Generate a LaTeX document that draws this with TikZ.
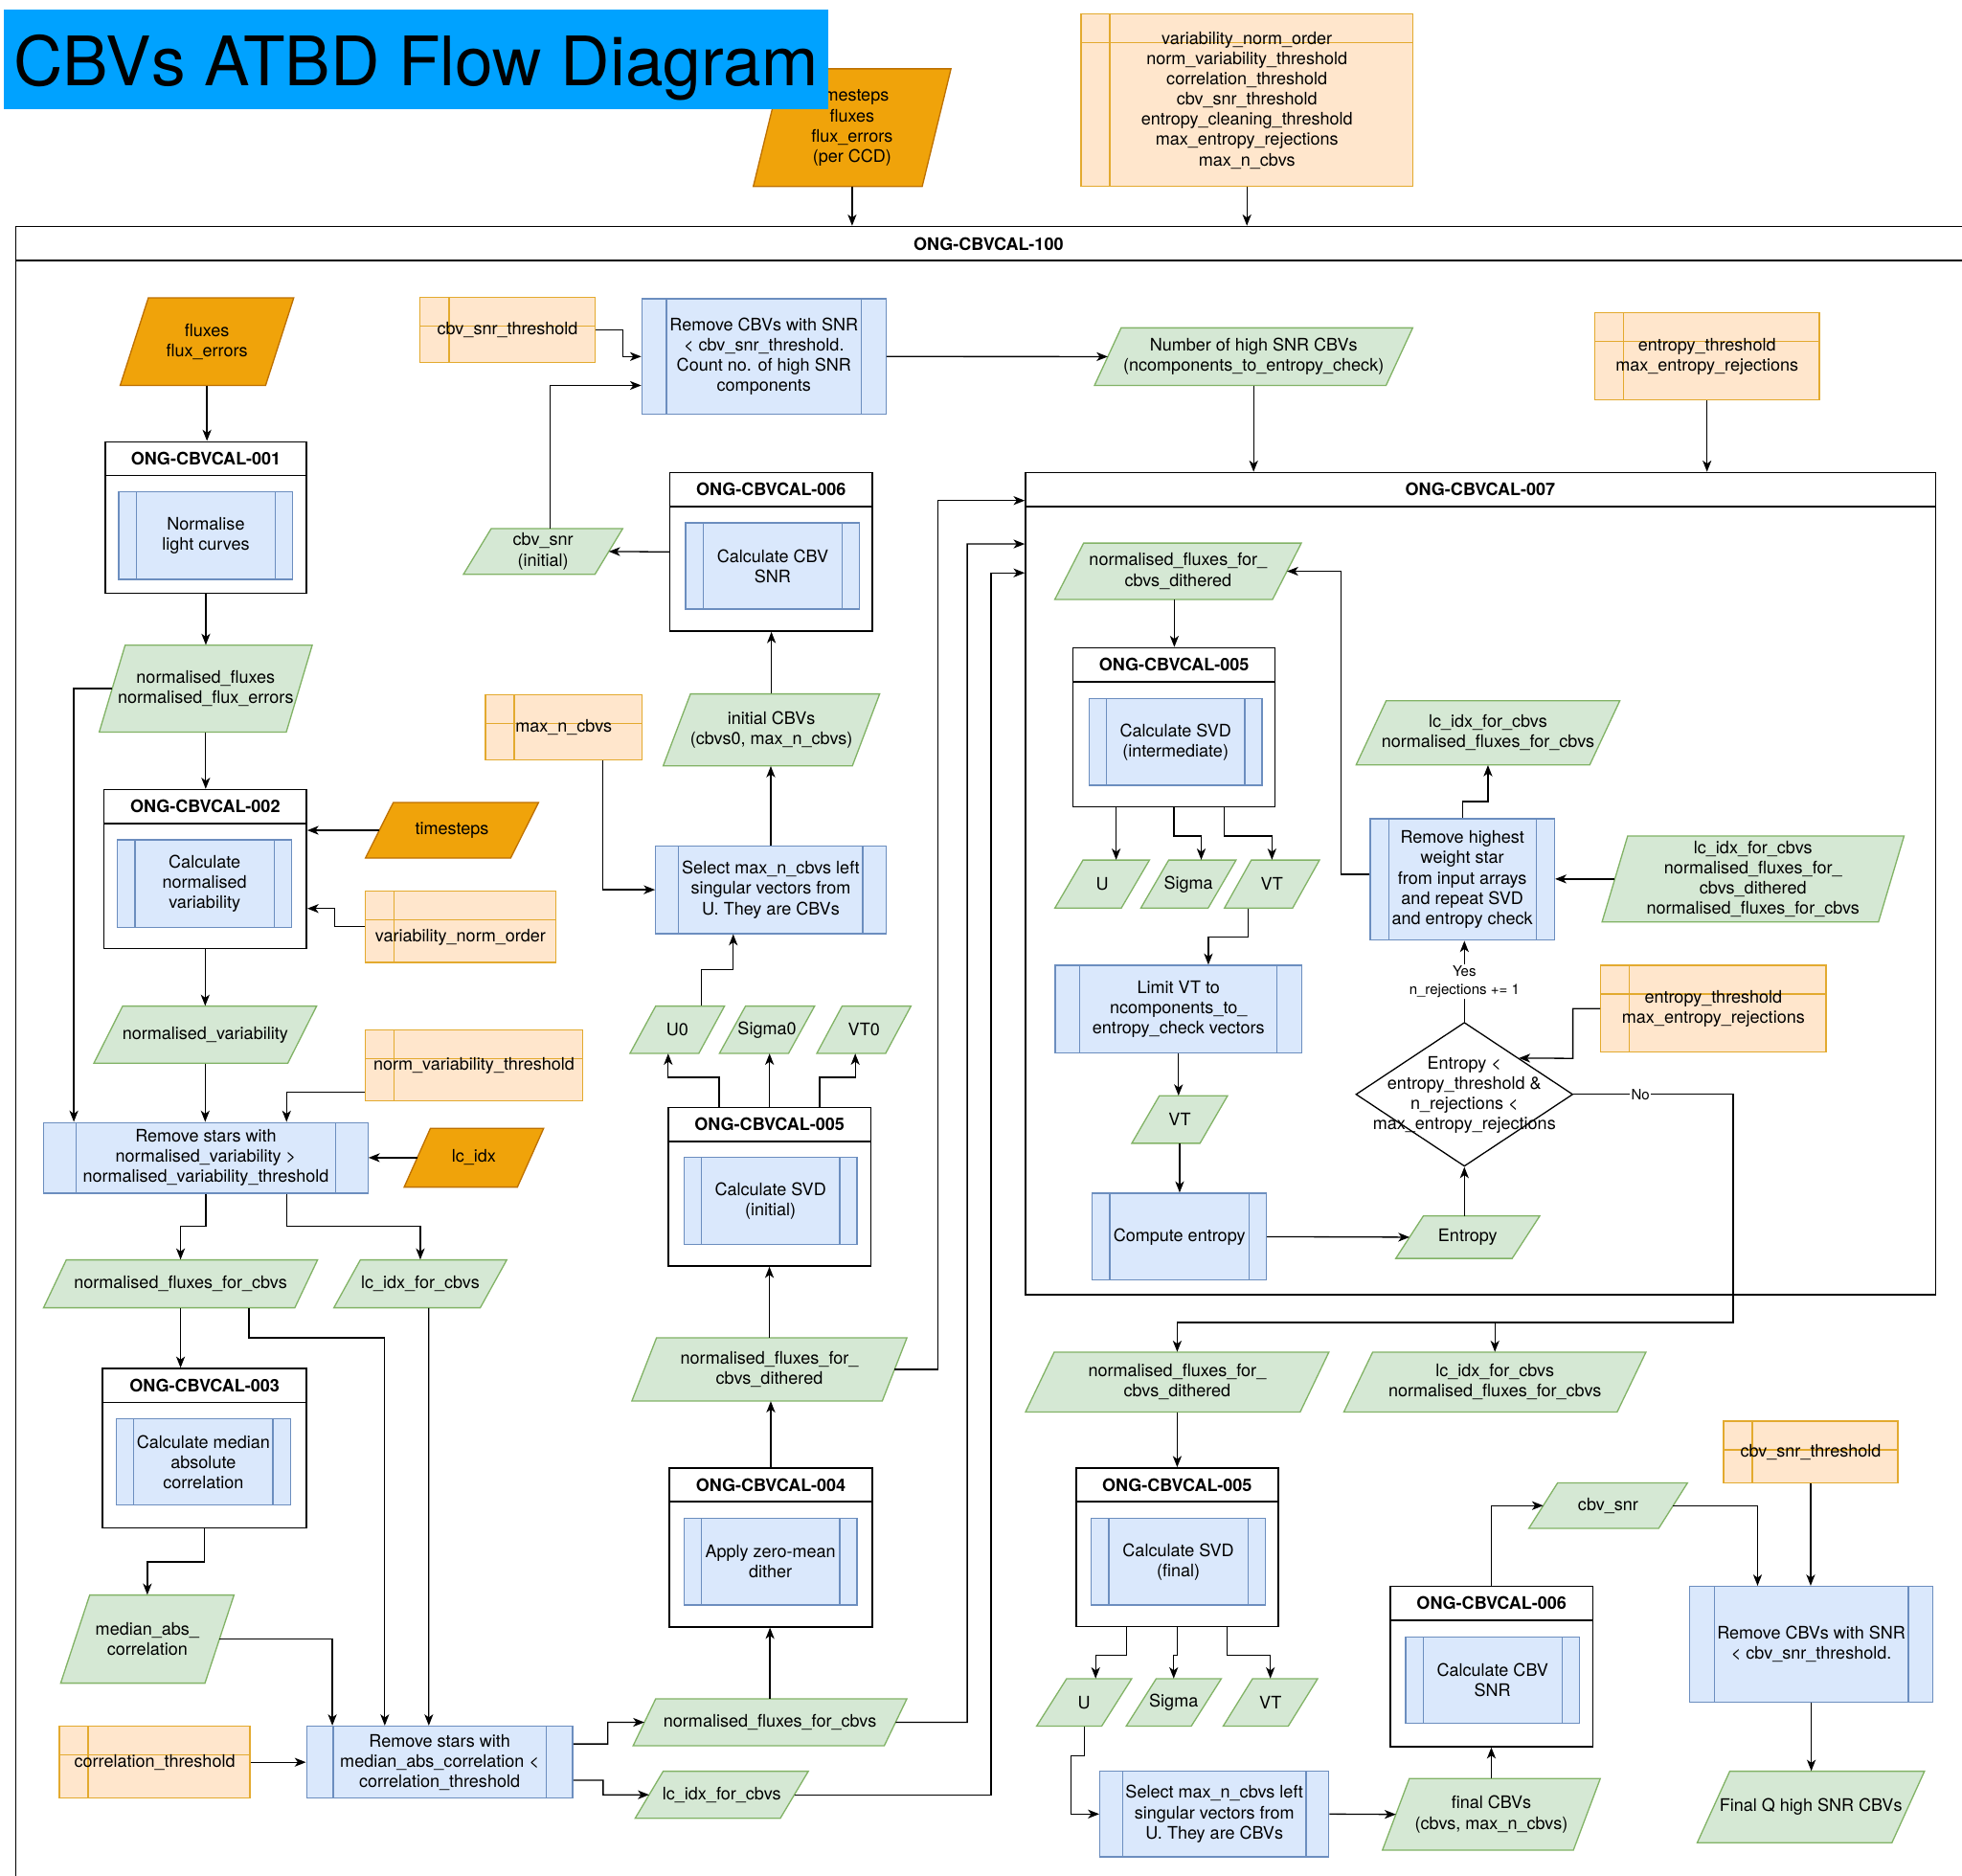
\documentclass[tikz,border=0pt]{standalone}
\usepackage{fontspec}
\setmainfont{TeX Gyre Heros}
\usetikzlibrary{arrows.meta,calc,shapes.geometric}
\definecolor{pBlue}{HTML}{DAE8FC}
\definecolor{pBlueLine}{HTML}{6C8EBF}
\definecolor{pGreen}{HTML}{D5E8D4}
\definecolor{pGreenLine}{HTML}{82B366}
\definecolor{pAmber}{HTML}{F0A30A}
\definecolor{pAmberLine}{HTML}{BD7000}
\definecolor{pPeach}{HTML}{FFE6CC}
\definecolor{pPeachLine}{HTML}{E3AA2F}
\definecolor{pTitle}{HTML}{00A2FF}
\tikzset{
    txt/.style={inner sep=0pt, align=center, font=\fontsize{13.8}{16.2}\selectfont},
    hdr/.style={inner sep=0pt, font=\bfseries\fontsize{13.8}{16.2}\selectfont},
    lane/.style={draw=black, fill=white, line width=1.2pt, inner sep=0pt,
        path picture={\draw[line width=1.2pt] ([yshift=-27pt]path picture bounding box.north west) -- ([yshift=-27pt]path picture bounding box.north east);}},
    proc/.style={txt, draw=pBlueLine, fill=pBlue, line width=1pt,
        path picture={
            \draw[pBlueLine, line width=1pt] ($(path picture bounding box.north west)!0.1!(path picture bounding box.north east)$) -- ($(path picture bounding box.south west)!0.1!(path picture bounding box.south east)$);
            \draw[pBlueLine, line width=1pt] ($(path picture bounding box.north west)!0.9!(path picture bounding box.north east)$) -- ($(path picture bounding box.south west)!0.9!(path picture bounding box.south east)$);}},
    store/.style={txt, draw=pPeachLine, fill=pPeach, line width=1pt,
        path picture={
            \draw[pPeachLine, line width=1pt] ([xshift=23pt]path picture bounding box.north west) -- ([xshift=23pt]path picture bounding box.south west);
            \draw[pPeachLine, line width=1pt] ([yshift=-23pt]path picture bounding box.north west) -- ([yshift=-23pt]path picture bounding box.north east);}},
    gio/.style={draw=pGreenLine, fill=pGreen, line width=1pt},
    oio/.style={draw=pAmberLine, fill=pAmber, line width=1pt},
    arr/.style={-{Stealth[length=9pt,width=7pt,inset=2.5pt]}, line width=1pt},
    lbl/.style={fill=white, inner sep=1pt, align=center, font=\fontsize{11.5}{14.5}\selectfont}
}
% #1 style, #2 name, #3 cx, #4 cy, #5 width, #6 height, #7 slant, #8 text
\newcommand{\iobox}[8]{%
    \draw[#1] (#3-#5/2+#7,#4-#6/2) -- (#3+#5/2,#4-#6/2) -- (#3+#5/2-#7,#4+#6/2) -- (#3-#5/2,#4+#6/2) -- cycle;
    \node[txt, minimum width=#5, minimum height=#6] (#2) at (#3,#4) {#8};
    \coordinate (#2-l) at (#3-#5/2+#7/2,#4);
    \coordinate (#2-r) at (#3+#5/2-#7/2,#4);
}

\begin{document}
\begin{tikzpicture}[x=1pt,y=-1pt]
\useasboundingbox (0,0) rectangle (1568,1499);

% inputs above the main block
\iobox{oio}{ccd}{681}{102}{158}{94}{23}{timesteps\\fluxes\\flux\_errors\\(per CCD)}
\node[store, minimum width=265, minimum height=138] (stparams) at (996.5,80) {variability\_norm\_order\\norm\_variability\_threshold\\correlation\_threshold\\cbv\_snr\_threshold\\entropy\_cleaning\_threshold\\max\_entropy\_rejections\\max\_n\_cbvs};

% main block
\node[lane, minimum width=1587.5, minimum height=1349] (c100) at (806.25,855.5) {};
\node[hdr] (c100t) at (790,195) {ONG-CBVCAL-100};

% left column
\iobox{oio}{fluxin}{165.4}{273}{138.7}{70}{22.5}{fluxes\\flux\_errors}
\node[lane, minimum width=161, minimum height=121] (c001) at (164.5,413.5) {};
\node[hdr] (c001t) at (164.5,366.5) {ONG-CBVCAL-001};
\node[proc, minimum width=139, minimum height=70] (p001) at (164.5,428) {Normalise\\light curves};
\iobox{gio}{nflux}{164.4}{550.3}{170.2}{69.4}{20.7}{normalised\_fluxes\\normalised\_flux\_errors}
\node[lane, minimum width=162, minimum height=127] (c002) at (164,694.5) {};
\node[hdr] (c002t) at (164,644.5) {ONG-CBVCAL-002};
\node[proc, minimum width=139, minimum height=70] (p002) at (163.5,706) {Calculate\\normalised\\variability};
\iobox{oio}{tsteps}{361.2}{663.5}{138.4}{44.4}{22.3}{timesteps}
\node[store, minimum width=152, minimum height=57, label={[txt, yshift=-8.5pt]center:variability\_norm\_order}] (stvno) at (368,740.5) {};
\iobox{gio}{nvar}{164}{826.8}{178}{45.6}{23}{normalised\_variability}
\node[store, minimum width=173.6, minimum height=56.6] (stvthr) at (378.8,851.3) {norm\_variability\_threshold};
\node[proc, minimum width=259, minimum height=56.5] (rmvar) at (164.5,925.25) {Remove stars with\\normalised\_variability \textgreater\\normalised\_variability\_threshold};
\iobox{oio}{lcidx}{378.75}{925.1}{111.5}{47}{21}{lc\_idx}
\iobox{gio}{nffc1}{144.3}{1025.9}{219}{38.3}{18.2}{normalised\_fluxes\_for\_cbvs}
\iobox{gio}{lcfc1}{335.9}{1025.9}{138.2}{38.3}{21.2}{lc\_idx\_for\_cbvs}
\node[lane, minimum width=163, minimum height=127.4] (c003) at (163.5,1157.3) {};
\node[hdr] (c003t) at (163.5,1107.1) {ONG-CBVCAL-003};
\node[proc, minimum width=139, minimum height=69] (p003) at (162.5,1168.2) {Calculate median\\absolute\\correlation};
\iobox{gio}{mac}{117.75}{1309.8}{138.5}{70.4}{23.2}{median\_abs\_\\correlation}
\node[store, minimum width=152.3, minimum height=57.6] (stcorr) at (123.65,1408.2) {correlation\_threshold};
\node[proc, minimum width=212.7, minimum height=57.6] (rmcorr) at (351.35,1408.2) {Remove stars with\\median\_abs\_correlation \textless\\correlation\_threshold};

% middle column
\node[store, minimum width=139.6, minimum height=52.4] (stsnr) at (405.6,263.6) {cbv\_snr\_threshold};
\node[proc, minimum width=195, minimum height=92.2] (rmsnr) at (610.5,284.9) {Remove CBVs with SNR\\\textless{} cbv\_snr\_threshold.\\Count no. of high SNR\\components};
\iobox{gio}{snri}{434}{440.7}{127.3}{36.6}{22.2}{cbv\_snr\\(initial)}
\node[lane, minimum width=161.6, minimum height=126.7] (c006a) at (616.2,441) {};
\node[hdr] (c006at) at (616.2,391.1) {ONG-CBVCAL-006};
\node[proc, minimum width=139, minimum height=69] (p006a) at (617.5,452.3) {Calculate CBV\\SNR};
\node[store, minimum width=125, minimum height=52] (stmax) at (450.5,581) {max\_n\_cbvs};
\iobox{gio}{icbv}{616.5}{583.25}{173}{57.5}{21.8}{initial CBVs\\(cbvs0, max\_n\_cbvs)}
\node[proc, minimum width=184, minimum height=70] (selA) at (616,711) {Select max\_n\_cbvs left\\singular vectors from\\U. They are CBVs};
\iobox{gio}{u0}{541.25}{822.85}{75.5}{37.7}{20.5}{U0}
\iobox{gio}{sig0}{613}{822.85}{76}{37.7}{20.8}{Sigma0}
\iobox{gio}{vt0}{690.4}{822.85}{75.2}{37.7}{20.2}{VT0}
\node[lane, minimum width=162, minimum height=126.6] (c005a) at (615,948.3) {};
\node[hdr] (c005at) at (615,898.5) {ONG-CBVCAL-005};
\node[proc, minimum width=138.5, minimum height=69.3] (p005a) at (615.75,959.65) {Calculate SVD\\(initial)};
\iobox{gio}{nfd1}{614.9}{1094.25}{219.8}{50.5}{19.7}{normalised\_fluxes\_for\_\\cbvs\_dithered}
\node[lane, minimum width=162, minimum height=127] (c004) at (616,1236.5) {};
\node[hdr] (c004t) at (616,1186.5) {ONG-CBVCAL-004};
\node[proc, minimum width=138.5, minimum height=69] (p004) at (615.75,1248) {Apply zero-mean\\dither};
\iobox{gio}{nffc2}{615.35}{1376.3}{218.7}{37.4}{18}{normalised\_fluxes\_for\_cbvs}
\iobox{gio}{lcfc2}{576.8}{1434.2}{138.4}{37.6}{22.4}{lc\_idx\_for\_cbvs}

% entropy check block
\iobox{gio}{nhigh}{1001.85}{285}{254.3}{46}{21.3}{Number of high SNR CBVs\\(ncomponents\_to\_entropy\_check)}
\node[store, minimum width=179.6, minimum height=69.5] (stent1) at (1364.2,284.75) {entropy\_threshold\\max\_entropy\_rejections};
\node[lane, minimum width=727.4, minimum height=657] (c007) at (1183.3,706.1) {};
\node[hdr] (c007t) at (1183,391.1) {ONG-CBVCAL-007};
\iobox{gio}{nfd2}{941.5}{456.5}{197}{45}{23}{normalised\_fluxes\_for\_\\cbvs\_dithered}
\node[lane, minimum width=161.4, minimum height=127.1] (c005b) at (938.3,581.2) {};
\node[hdr] (c005bt) at (938.3,531.1) {ONG-CBVCAL-005};
\node[proc, minimum width=138.3, minimum height=69.2] (p005b) at (939.45,592.9) {Calculate SVD\\(intermediate)};
\iobox{gio}{uB}{880.8}{706.5}{75.6}{38.4}{22.5}{U}
\iobox{gio}{sigB}{949.75}{706.5}{76.1}{38.4}{22.3}{Sigma}
\iobox{gio}{vtB}{1016.5}{706.5}{76}{38.4}{21.5}{VT}
\node[proc, minimum width=197.1, minimum height=69.8] (limvt) at (941.85,806.3) {Limit VT to\\ncomponents\_to\_\\entropy\_check vectors};
\iobox{gio}{vt2}{942.75}{894.65}{76.5}{37.9}{22}{VT}
\node[proc, minimum width=139, minimum height=69.5] (entc) at (942.5,988.25) {Compute entropy};
\iobox{gio}{entp}{1173}{988.65}{115}{33.9}{22}{Entropy}
\node[draw, fill=white, diamond, line width=1pt, inner sep=0pt, minimum width=173.4, minimum height=115] (dec) at (1170.3,874.5) {};
\node[txt] (dect) at (1170.3,875) {Entropy \textless\\entropy\_threshold \&\\n\_rejections \textless\\max\_entropy\_rejections};
\node[proc, minimum width=147.3, minimum height=97] (rmhigh) at (1168.65,702.8) {Remove highest\\weight star\\from input arrays\\and repeat SVD\\and entropy check};
\iobox{gio}{lcn1}{1189.15}{585.6}{210.7}{51.2}{24}{lc\_idx\_for\_cbvs\\normalised\_fluxes\_for\_cbvs}
\iobox{gio}{inR}{1401}{702.4}{241.4}{68.8}{20.5}{lc\_idx\_for\_cbvs\\normalised\_fluxes\_for\_\\cbvs\_dithered\\normalised\_fluxes\_for\_cbvs}
\node[store, minimum width=180, minimum height=69.3] (stent2) at (1369.3,806.05) {entropy\_threshold\\max\_entropy\_rejections};

% final stage
\iobox{gio}{nfd3}{940.8}{1104.4}{242.4}{47.8}{22.9}{normalised\_fluxes\_for\_\\cbvs\_dithered}
\iobox{gio}{lcn2}{1194.7}{1104.4}{241.4}{47.8}{23}{lc\_idx\_for\_cbvs\\normalised\_fluxes\_for\_cbvs}
\node[lane, minimum width=161.4, minimum height=126.7] (c005c) at (940.7,1236.4) {};
\node[hdr] (c005ct) at (940.7,1186.5) {ONG-CBVCAL-005};
\node[proc, minimum width=139, minimum height=69] (p005c) at (941.7,1248) {Calculate SVD\\(final)};
\iobox{gio}{uC}{866.4}{1360.45}{76}{37.9}{24}{U}
\iobox{gio}{sigC}{938}{1360.45}{76}{37.9}{24}{Sigma}
\iobox{gio}{vtC}{1015.25}{1360.45}{75.5}{37.9}{23.5}{VT}
\node[proc, minimum width=183, minimum height=68.4] (selB) at (970.5,1449.6) {Select max\_n\_cbvs left\\singular vectors from\\U. They are CBVs};
\iobox{gio}{fcbv}{1191.85}{1449.9}{174.1}{57.2}{21.5}{final CBVs\\(cbvs, max\_n\_cbvs)}
\node[lane, minimum width=162, minimum height=128] (c006b) at (1192,1331.7) {};
\node[hdr] (c006bt) at (1192,1281.2) {ONG-CBVCAL-006};
\node[proc, minimum width=138.8, minimum height=69] (p006b) at (1192.8,1342.5) {Calculate CBV\\SNR};
\iobox{gio}{snrB}{1285.2}{1203.15}{126.8}{36.3}{23}{cbv\_snr}
\node[store, minimum width=139.3, minimum height=49.4] (stsnrB) at (1447.05,1160.3) {cbv\_snr\_threshold};
\node[proc, minimum width=194.1, minimum height=92.3] (rmsnrB) at (1447.55,1313.85) {Remove CBVs with SNR\\\textless{} cbv\_snr\_threshold.};
\iobox{gio}{finq}{1447.2}{1443.95}{181.6}{57.1}{26}{Final Q high SNR CBVs}

% connectors
\draw[arr] (ccd.south) -- (ccd.south |- c100.north);
\draw[arr] (stparams.south) -- (stparams.south |- c100.north);
\draw[arr] (fluxin.south) -- (fluxin.south |- c001.north);
\draw[arr] (c001.south) -- (c001.south |- nflux.north);
\draw[arr] (nflux-l) -| ([xshift=-105.5pt]rmvar.north);
\draw[arr] (nflux.south) -- (nflux.south |- c002.north);
\draw[arr] (tsteps-l) -- (tsteps-l -| c002.east);
\draw[arr] (stvno.west) -| ([xshift=22pt,yshift=-31.5pt]c002.east) -- ([yshift=-31.5pt]c002.east);
\draw[arr] (c002.south) -- (c002.south |- nvar.north);
\draw[arr] (nvar.south) -- (nvar.south |- rmvar.north);
\draw[arr] ([yshift=-21.7pt]stvthr.west) -| ([xshift=64.5pt]rmvar.north);
\draw[arr] (lcidx-l) -- (lcidx-l -| rmvar.east);
\draw[arr] (rmvar.south) -- (164.5,980) -| (nffc1.north);
\draw[arr] ([xshift=64.5pt]rmvar.south) -- (229,980) -| (lcfc1.north);
\draw[arr] (nffc1.south) -- (nffc1.south |- c003.north);
\draw[arr] ([xshift=54.7pt]nffc1.south) -- (199,1069) -| ([xshift=-43.85pt]rmcorr.north);
\draw[arr] ([xshift=6.8pt]lcfc1.south) -- ([xshift=-8.65pt]rmcorr.north);
\draw[arr] (c003.south) -- (163.5,1248) -| (mac.north);
\draw[arr] (mac-r) -| ([xshift=-85.75pt]rmcorr.north);
\draw[arr] (stcorr.east) -- (rmcorr.west);
\draw[arr] ([yshift=14.6pt]rmcorr.east) -- (485.8,1393.6) |- (nffc2-l);
\draw[arr] ([yshift=-14.4pt]rmcorr.east) -- (482,1422.6) |- (lcfc2-l);
\draw[arr] (nffc2.north) -- (nffc2.north |- c004.south);
\draw[arr] (nffc2-r) -| (773,434.7) -- ([yshift=271.4pt]c007.west);
\draw[arr] (lcfc2-r) -| (792,457.8) -- ([yshift=248.3pt]c007.west);
\draw[arr] (c004.north) -- (c004.north |- nfd1.south);
\draw[arr] (nfd1-r) -| (749.5,400) -- ([yshift=306.1pt]c007.west);
\draw[arr] (nfd1.north) -- (nfd1.north |- c005a.south);
\draw[arr] ([xshift=-40.4pt]c005a.north) -- (574.6,861) -| ([xshift=-7.25pt]u0.south);
\draw[arr] (c005a.north) -- (c005a.north |- sig0.south);
\draw[arr] ([xshift=40pt]c005a.north) -- (655,861) -| ([xshift=-6.9pt]vt0.south);
\draw[arr] ([xshift=19.35pt]u0.north) -- (560.6,774.7) -| ([xshift=-30pt]selA.south);
\draw[arr] ([xshift=31.2pt]stmax.south) |- (selA.west);
\draw[arr] (selA.north) -- (selA.north |- icbv.south);
\draw[arr] (icbv.north) -- (icbv.north |- c006a.south);
\draw[arr] (c006a.west) -- (snri-r);
\draw[arr] ([xshift=5.7pt]snri.north) |- ([yshift=-23.1pt]rmsnr.west);
\draw[arr] (stsnr.east) -| (498,284.9) -- (rmsnr.west);
\draw[arr] (rmsnr.east) -- (nhigh-l);
\draw[arr] (nhigh.south) -- (nhigh.south |- c007.north);
\draw[arr] (stent1.south) -- (stent1.south |- c007.north);
\draw[arr] ([xshift=-3pt]nfd2.south) -- ([xshift=-3pt]nfd2.south |- c005b.north);
\draw[arr] ([yshift=4.1pt]rmhigh.west) -| (1071.6,456.5) -- (nfd2-r);
\draw[arr] ([xshift=-46.3pt]c005b.south) -- ([xshift=11.2pt]uB.north);
\draw[arr] (c005b.south) -- (938.3,668) -| ([xshift=10.25pt]sigB.north);
\draw[arr] ([xshift=40.2pt]c005b.south) -- (978.5,668) -| (vtB.north);
\draw[arr] ([xshift=-19pt]vtB.south) -- (997.5,749) -| ([xshift=23.85pt]limvt.north);
\draw[arr] (limvt.south) -- (limvt.south |- vt2.north);
\draw[arr] (vt2.south) -- (vt2.south |- entc.north);
\draw[arr] (entc.east) -- (entp-l);
\draw[arr] ([xshift=-2.7pt]entp.north) -- (dec.south);
\draw[arr] (dec.north) -- node[lbl] {Yes\\n\_rejections += 1} (dec.north |- rmhigh.south);
\draw[arr] (stent2.west) -| (1257,845.75) -- (dec.north east);
\draw[arr] (inR-l) -- (inR-l -| rmhigh.east);
\draw[arr] (rmhigh.north) -- (1168.65,640.5) -| (lcn1.south);
\coordinate (nojoin) at (1385,1056.8);
\draw[arr] (dec.east) -- node[lbl, pos=0.42] {No} (1385,874.5) -- (nojoin) -| (nfd3.north);
\draw[arr] (nojoin) -| (lcn2.north);
\draw[arr] (nfd3.south) -- (nfd3.south |- c005c.north);
\draw[arr] ([xshift=-40.2pt]c005c.south) -- (900.5,1322.8) -| ([xshift=9.2pt]uC.north);
\draw[arr] (c005c.south) -- (940.7,1322.8) -| (sigC.north);
\draw[arr] ([xshift=40.2pt]c005c.south) -- (980.9,1322.8) -| (vtC.north);
\draw[arr] (uC.south) -- (866.4,1403) -- (856,1403) |- (selB.west);
\draw[arr] (selB.east) -- (fcbv-l);
\draw[arr] (fcbv.north) -- (fcbv.north |- c006b.south);
\draw[arr] (c006b.north) |- (snrB-l);
\draw[arr] (snrB-r) -| ([xshift=-42.95pt]rmsnrB.north);
\draw[arr] (stsnrB.south) -- (stsnrB.south |- rmsnrB.north);
\draw[arr] (rmsnrB.south) -- (rmsnrB.south |- finq.north);

% title
\node[fill=pTitle, minimum width=659, minimum height=79, inner sep=0pt] (title) at (332.5,47.5) {};
\node[anchor=base, inner sep=0pt, font=\fontsize{54.5}{60}\selectfont] (titletext) at (332.5,68.3) {CBVs ATBD Flow Diagram};
\end{tikzpicture}
\end{document}
